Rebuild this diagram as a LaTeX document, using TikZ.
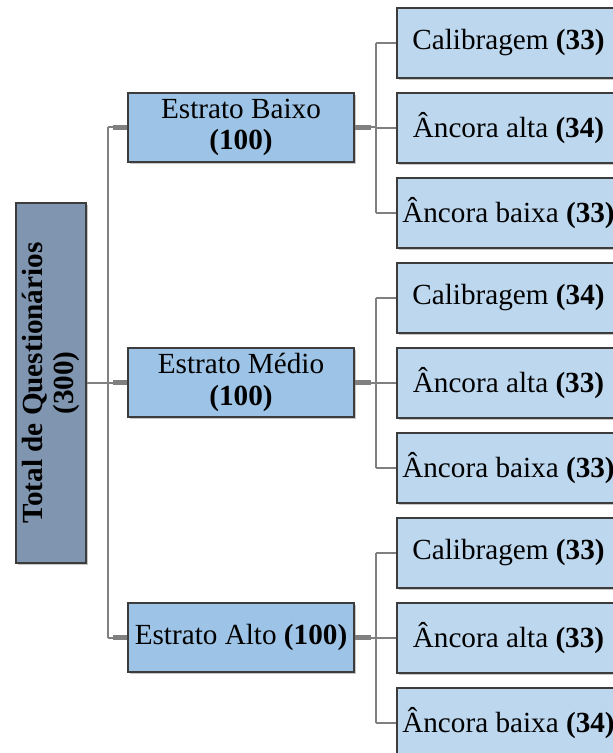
\documentclass[tikz,border=0pt]{standalone}
\usepackage{fontspec}
\setmainfont{Liberation Serif}
\usetikzlibrary{shadows}
\definecolor{rootfill}{RGB}{128,149,176}
\definecolor{midfill}{RGB}{157,195,230}
\definecolor{leaffill}{RGB}{189,215,238}
\definecolor{edge}{RGB}{60,60,60}
\definecolor{conncol}{RGB}{128,128,128}
\tikzset{
  boxbase/.style={draw=edge, line width=1pt, inner sep=0pt, align=center,
    font=\fontsize{14.6}{15.6}\selectfont,
    drop shadow={shadow xshift=0.8pt, shadow yshift=-1.2pt, opacity=0.22, fill=black}},
  rootbox/.style={boxbase, fill=rootfill, minimum width=180pt, minimum height=35pt, rotate=90},
  midbox/.style={boxbase, fill=midfill, minimum width=113pt, minimum height=34.5pt},
  leafbox/.style={boxbase, fill=leaffill, minimum width=111.5pt, minimum height=35pt},
  conn/.style={draw=conncol, line width=1pt},
  stub/.style={draw=conncol, line width=2.2pt}
}
\begin{document}
\begin{tikzpicture}[x=0.5pt, y=-0.5pt]
\clip (0,0) rectangle (613,753);
\fill[white] (0,0) rectangle (613,753);

% root
\node[rootbox] (root) at (51,383) {\textbf{Total de Questionários}\\\textbf{(300)}};

% middle
\node[midbox] (b1) at (241,127.5) {Estrato Baixo\\\textbf{(100)}};
\node[midbox] (b2) at (241,382.5) {Estrato Médio\\\textbf{(100)}};
\node[midbox] (b3) at (241,637.5) {Estrato Alto \textbf{(100)}};

% leaves
\node[leafbox] (l11) at (508.5,43)  {Calibragem \textbf{(33)}};
\node[leafbox] (l12) at (508.5,128) {Âncora alta \textbf{(34)}};
\node[leafbox] (l13) at (508.5,213) {Âncora baixa \textbf{(33)}};
\node[leafbox] (l21) at (508.5,298) {Calibragem \textbf{(34)}};
\node[leafbox] (l22) at (508.5,383) {Âncora alta \textbf{(33)}};
\node[leafbox] (l23) at (508.5,468) {Âncora baixa \textbf{(33)}};
\node[leafbox] (l31) at (508.5,553) {Calibragem \textbf{(33)}};
\node[leafbox] (l32) at (508.5,638) {Âncora alta \textbf{(33)}};
\node[leafbox] (l33) at (508.5,723) {Âncora baixa \textbf{(34)}};

% spine from root
\coordinate (sp) at (108,383);
\draw[conn] (root.south) -- (root.south -| sp);
\draw[conn] (b1.west -| sp) -- (b3.west -| sp);
\foreach \b in {b1,b2,b3}{
  \draw[conn] (\b.west -| sp) -- (\b.west);
  \draw[stub] (\b.west) -- ++(-14,0);
}

% sub-spines
\coordinate (ss) at (376,0);
\foreach \b/\a/\m/\c in {b1/l11/l12/l13, b2/l21/l22/l23, b3/l31/l32/l33}{
  \draw[conn] (\a.west -| ss) -- (\c.west -| ss);
  \draw[conn] (\b.east) -- (\b.east -| ss);
  \draw[stub] (\b.east) -- ++(16,0);
  \foreach \l in {\a,\m,\c}{
    \draw[conn] (\l.west -| ss) -- (\l.west);
  }
}
\end{tikzpicture}
\end{document}
